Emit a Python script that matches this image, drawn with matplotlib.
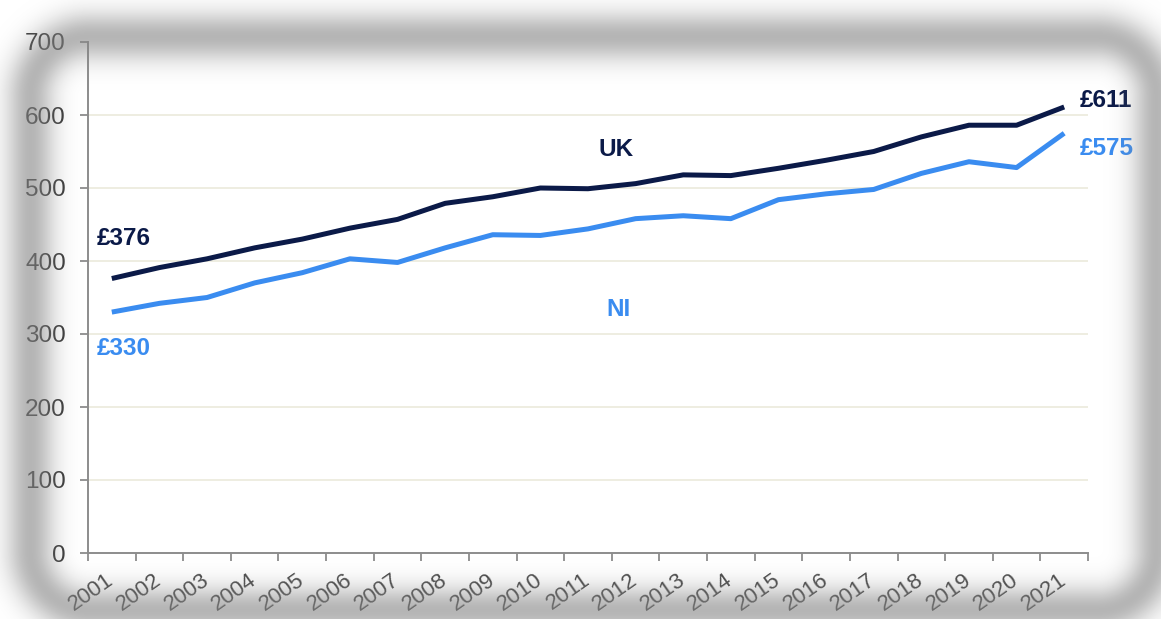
import matplotlib
matplotlib.use("Agg")
import matplotlib.pyplot as plt
import numpy as np

plt.rcParams['font.family'] = ['Liberation Sans', 'DejaVu Sans']

# Average weekly earnings, 2001-2021
years = [str(y) for y in range(2001, 2022)]
uk = [376, 391, 403, 418, 430, 445, 457, 479, 488, 500, 499,
      506, 518, 517, 527, 538, 550, 570, 586, 586, 611]
ni = [330, 342, 350, 370, 384, 403, 398, 418, 436, 435, 444,
      458, 462, 458, 484, 492, 498, 520, 536, 528, 575]
y_ticks = [0, 100, 200, 300, 400, 500, 600, 700]

navy = '#0b1a48'
blue = '#3a8cf0'
W, H = 1161, 619

fig = plt.figure(figsize=(W / 100, H / 100), dpi=100)
ax = fig.add_axes([88 / W, 66 / H, 1000 / W, 511 / H])

x = np.arange(len(years))
ax.plot(x, uk, color=navy, lw=3.6, solid_capstyle='butt', zorder=3)
ax.plot(x, ni, color=blue, lw=3.6, solid_capstyle='butt', zorder=3)

ax.set_xlim(-0.5, len(years) - 0.5)
ax.set_ylim(0, 700)
ax.set_yticks(y_ticks)
ax.set_yticklabels([str(v) for v in y_ticks])
for v in y_ticks[1:-1]:
    ax.axhline(v, color='#ebeadb', lw=1.2, zorder=1)

ax.set_xticks(x)
ax.set_xticklabels(years, rotation=35, ha='right', va='center',
                   rotation_mode='anchor')
ax.set_xticks(np.arange(len(years) + 1) - 0.5, minor=True)
ax.tick_params(axis='x', which='major', length=0, pad=18,
               labelsize=16, labelcolor='#4a4a4a')
ax.tick_params(axis='x', which='minor', length=6, width=1.3, color='#8c8c8c')
ax.tick_params(axis='y', length=6, width=1.3, color='#8c8c8c', pad=10,
               labelsize=17.5, labelcolor='#3a3a3a')

for side in ['top', 'right']:
    ax.spines[side].set_visible(False)
for side in ['left', 'bottom']:
    ax.spines[side].set_color('#8c8c8c')
    ax.spines[side].set_linewidth(1.4)

lab = dict(fontsize=17.5, fontweight='bold', textcoords='offset points')
ax.annotate(f'£{uk[0]}', (x[0], uk[0]), xytext=(-11, 29), ha='left', va='center', color=navy, **lab)
ax.annotate(f'£{ni[0]}', (x[0], ni[0]), xytext=(-11, -26), ha='left', va='center', color=blue, **lab)
ax.annotate(f'£{uk[-1]}', (x[-1], uk[-1]), xytext=(11, 5), ha='left', va='center', color=navy, **lab)
ax.annotate(f'£{ni[-1]}', (x[-1], ni[-1]), xytext=(11, -11), ha='left', va='center', color=blue, **lab)
ax.text(10.58, 553, 'UK', ha='center', va='center', color=navy, fontsize=17.5, fontweight='bold')
ax.text(10.65, 334, 'NI', ha='center', va='center', color=blue, fontsize=17.5, fontweight='bold')

# soft grey frame round the whole chart
yy, xx = np.mgrid[0:H, 0:W].astype(float)
x0, x1, y0, y1, r = 30, 1156, 36, 610, 60
cx, cy = (x0 + x1) / 2, (y0 + y1) / 2
hx, hy = (x1 - x0) / 2 - r, (y1 - y0) / 2 - r
qx = np.abs(xx - cx) - hx
qy = np.abs(yy - cy) - hy
d = np.hypot(np.maximum(qx, 0), np.maximum(qy, 0)) + np.minimum(np.maximum(qx, qy), 0) - r
alpha = 0.6 * np.exp(-(d / 24.0) ** 2)
shade = np.zeros((H, W, 4))
shade[..., :3] = 0.52
shade[..., 3] = alpha

ov = fig.add_axes([0, 0, 1, 1], zorder=10)
ov.imshow(shade, extent=(0, W, H, 0), interpolation='bilinear', aspect='auto')
ov.set_xlim(0, W)
ov.set_ylim(H, 0)
ov.axis('off')

fig.savefig('out.png', dpi=100)
